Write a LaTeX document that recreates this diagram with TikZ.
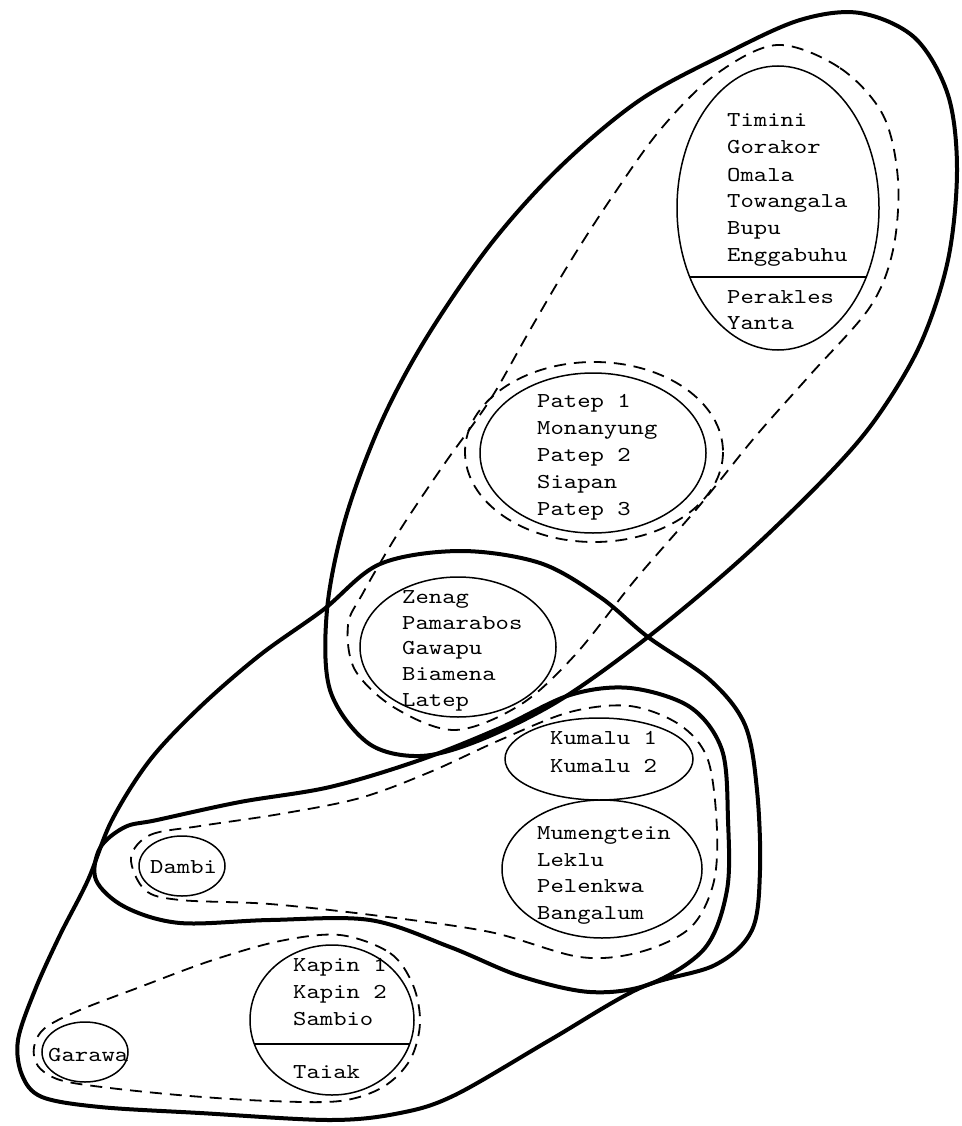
\documentclass[tikz,border=0pt]{standalone}
\usepackage{fontspec}
\setmonofont{lmmono10-regular.otf}[FakeStretch=1.2]
\usetikzlibrary{shapes.geometric}
\begin{document}
\begin{tikzpicture}[x=1pt,y=-1pt,
  lang/.style={draw, ellipse, line width=1.5pt, inner sep=0pt, outer sep=0pt},
  grp/.style={line width=4pt, line join=round},
  dgrp/.style={line width=1.8pt, dash pattern=on 12pt off 8pt},
  divider/.style={line width=1.5pt},
  lbl/.style={anchor=base west, inner sep=0pt, font=\fontsize{21.2}{24}\selectfont\ttfamily}]
\useasboundingbox (0,0) rectangle (961,1126);

% thick groupings
\draw[grp] plot[smooth cycle, tension=0.55] coordinates {
 (330,690) (327,610) (345,520) (380,425) (425,340) (490,245) (560,167) (640,100)
 (727,53) (800,20) (860,13) (915,38) (948,95) (957,170) (948,260) (920,345)
 (875,420) (823,480) (740,560) (648,637) (560,700) (480,740) (420,756) (368,743)};
\draw[grp] plot[smooth cycle, tension=0.55] coordinates {
 (323,610) (380,564) (460,551) (540,563) (600,597) (648,637) (710,680) (745,725)
 (757,790) (760,870) (752,930) (715,965) (640,988) (550,1040) (455,1095)
 (400,1113) (330,1120) (200,1113) (100,1107) (42,1097) (22,1075) (18,1040)
 (35,990) (60,935) (88,880) (112,820) (150,760) (200,707) (260,655)};
\draw[grp] plot[smooth cycle, tension=0.55] coordinates {
 (157,820) (240,802) (330,787) (420,760) (500,728) (570,695) (630,688) (690,707)
 (722,750) (728,820) (727,890) (705,948) (650,984) (590,992) (520,976) (450,947)
 (370,920) (270,920) (180,923) (125,907) (96,880) (100,848) (125,827)};

% dashed groupings
\draw[dgrp] plot[smooth cycle, tension=0.55] coordinates {
 (777,45) (840,68) (883,115) (898,180) (893,250) (870,307) (810,375) (755,437)
 (700,505) (635,580) (575,655) (520,705) (455,730) (395,708) (355,670) (348,625)
 (363,593) (400,530) (445,463) (490,400) (530,330) (570,262) (610,200) (660,130)
 (715,75)};
\draw[dgrp] (594,452) ellipse [x radius=129, y radius=90];
\draw[dgrp] plot[smooth cycle, tension=0.55] coordinates {
 (131,858) (150,835) (200,826) (280,814) (360,798) (430,772) (500,740) (570,712)
 (630,706) (680,725) (708,760) (717,830) (713,885) (690,928) (640,952) (580,957)
 (490,932) (380,916) (270,904) (180,900) (145,890)};
\draw[dgrp] plot[smooth cycle, tension=0.55] coordinates {
 (340,935) (390,953) (413,985) (420,1023) (410,1060) (383,1087) (340,1101)
 (270,1101) (190,1096) (110,1088) (60,1080) (38,1066) (34,1047) (45,1028)
 (80,1010) (140,987) (210,961) (280,941)};

% language ellipses
\node[lang, minimum width=202pt, minimum height=284pt] (timini) at (778,208) {};
\node[lang, minimum width=226pt, minimum height=160pt] (patep) at (593,453) {};
\node[lang, minimum width=196pt, minimum height=140pt] (zenag) at (458,647) {};
\node[lang, minimum width=188pt, minimum height=82pt] (kumalu) at (599,759) {};
\node[lang, minimum width=200pt, minimum height=138pt] (mumeng) at (602,869) {};
\node[lang, minimum width=86pt, minimum height=60pt] (dambi) at (182,866) {};
\node[lang, minimum width=164pt, minimum height=150pt] (kapin) at (332,1020) {};
\node[lang, minimum width=86pt, minimum height=60pt] (garawa) at (85,1052) {};

\draw[divider] (timini.-38.5) -- (timini.218.5);
\draw[divider] (kapin.-17.9) -- (kapin.197.9);

% labels
\foreach \t/\y [count=\i] in {Timini/126.5, Gorakor/153.5, Omala/181.5, Towangala/207.5,
  Bupu/234.5, Enggabuhu/261.5, Perakles/303.5, Yanta/329.5}
  \node[lbl] (ti\i) at (727,\y) {\t};
\foreach \t/\y [count=\i] in {Patep 1/407.5, Monanyung/434.5, Patep 2/461.5, Siapan/488.5, Patep 3/515.5}
  \node[lbl] (pa\i) at (537,\y) {\t};
\foreach \t/\y [count=\i] in {Zenag/603.5, Pamarabos/629.5, Gawapu/654.5, Biamena/680.5, Latep/706.5}
  \node[lbl] (ze\i) at (402,\y) {\t};
\foreach \t/\y [count=\i] in {Kumalu 1/744.5, Kumalu 2/772.5}
  \node[lbl] (ku\i) at (550,\y) {\t};
\foreach \t/\y [count=\i] in {Mumengtein/839.5, Leklu/866.5, Pelenkwa/892.5, Bangalum/919.5}
  \node[lbl] (mu\i) at (537,\y) {\t};
\node[lbl] (da1) at (150,873.5) {Dambi};
\foreach \t/\y [count=\i] in {Kapin 1/971.5, Kapin 2/998.5, Sambio/1025.5, Taiak/1078.5}
  \node[lbl] (ka\i) at (293,\y) {\t};
\node[lbl] (ga1) at (48,1061.5) {Garawa};
\end{tikzpicture}
\end{document}
